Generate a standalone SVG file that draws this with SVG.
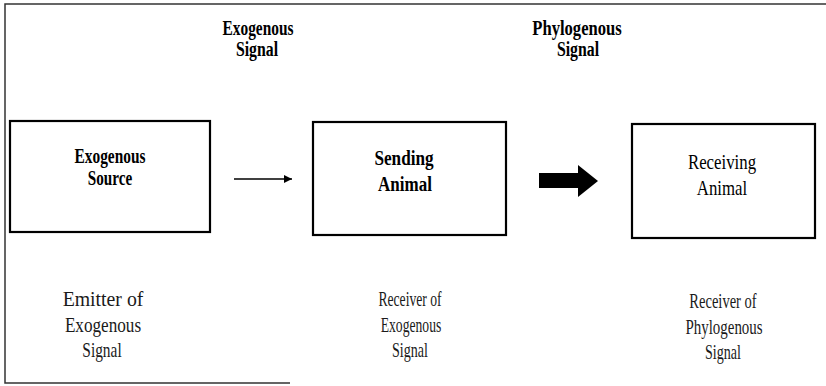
<svg xmlns="http://www.w3.org/2000/svg" width="826" height="386" viewBox="0 0 826 386">
  <style>
    .frame { fill: none; stroke: #333; stroke-width: 1.5; }
    .box { fill: #fff; stroke: #000; stroke-width: 2.2; }
    text { font-family: 'Liberation Serif', 'DejaVu Serif', serif; text-anchor: middle; }
    .hd { font-weight: bold; font-size: 20px; fill: #000; }
    .nm { font-weight: normal; font-size: 21px; fill: #000; }
    .lb { font-weight: normal; font-size: 22px; fill: #1a1a1a; }
    .conn { stroke: #000; stroke-width: 1.5; fill: none; }
  </style>
  <defs>
    <marker id="tri" viewBox="0 0 10 10" refX="10" refY="5" markerWidth="8" markerHeight="12" markerUnits="userSpaceOnUse" orient="auto">
      <path d="M0,0 L10,5 L0,10 z" fill="#000"/>
    </marker>
  </defs>
  <rect width="826" height="386" fill="#fff"/>

  <!-- outer frame (open on the right) -->
  <path class="frame" d="M826,4 L5,4 L5,383 L290,383"/>

  <!-- signal headings (each line condensed horizontally) -->
  <g id="heading-exogenous">
    <text class="hd" transform="translate(258,35) scale(0.77,1)">Exogenous</text>
    <text class="hd" transform="translate(257,56) scale(0.79,1)">Signal</text>
  </g>
  <g id="heading-phylogenous">
    <text class="hd" transform="translate(577,35) scale(0.83,1)">Phylogenous</text>
    <text class="hd" transform="translate(578,56) scale(0.79,1)">Signal</text>
  </g>

  <!-- nodes -->
  <g id="exogenous-source">
    <rect class="box" x="10" y="121" width="200" height="111"/>
    <text class="hd" transform="translate(110,163) scale(0.77,1)">Exogenous</text>
    <text class="hd" transform="translate(110,185) scale(0.76,1)">Source</text>
  </g>
  <g id="sending-animal">
    <rect class="box" x="313" y="122" width="193" height="113"/>
    <text class="hd" transform="translate(404,165) scale(0.86,1)">Sending</text>
    <text class="hd" transform="translate(405,191) scale(0.85,1)">Animal</text>
  </g>
  <g id="receiving-animal">
    <rect class="box" x="632" y="124" width="183" height="114"/>
    <text class="nm" transform="translate(722,169) scale(0.8,1)">Receiving</text>
    <text class="nm" transform="translate(722,195) scale(0.8,1)">Animal</text>
  </g>

  <!-- role descriptions -->
  <g id="role-emitter">
    <text class="lb" transform="translate(103,306) scale(0.9,1)">Emitter of</text>
    <text class="lb" transform="translate(103,332) scale(0.78,1)">Exogenous</text>
    <text class="lb" transform="translate(102,357) scale(0.7,1)">Signal</text>
  </g>
  <g id="role-receiver-exogenous">
    <text class="lb" transform="translate(410,306) scale(0.62,1)">Receiver of</text>
    <text class="lb" transform="translate(411,332) scale(0.62,1)">Exogenous</text>
    <text class="lb" transform="translate(410,357) scale(0.64,1)">Signal</text>
  </g>
  <g id="role-receiver-phylogenous">
    <text class="lb" transform="translate(723,308) scale(0.66,1)">Receiver of</text>
    <text class="lb" transform="translate(724,334) scale(0.68,1)">Phylogenous</text>
    <text class="lb" transform="translate(723,359) scale(0.64,1)">Signal</text>
  </g>

  <!-- connectors -->
  <g id="connectors">
    <line class="conn" x1="234" y1="179" x2="292" y2="179" marker-end="url(#tri)"/>
    <path d="M539,173 L578,173 L578,165 L598,181 L578,197 L578,188 L539,188 z" fill="#000"/>
  </g>
</svg>
